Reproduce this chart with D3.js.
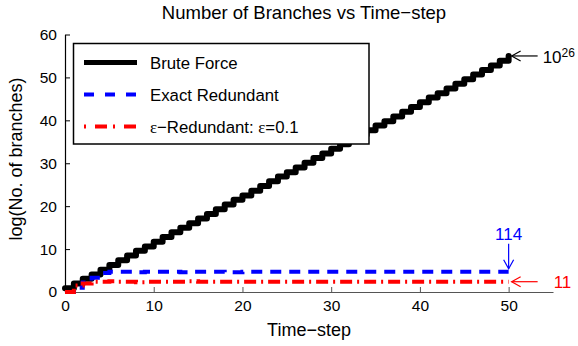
<!DOCTYPE html>
<html>
<head>
  <meta charset="utf-8">
  <title>Number of Branches vs Time-step</title>
  <script src="https://d3js.org/d3.v7.min.js"></script>
  <style>
    body { margin: 0; background: white; }
    text { font-family: "Liberation Sans", Arial, Helvetica, sans-serif; }
  </style>
</head>
<body>
  <div id="graphContainer"></div>
  <script>
    var width = 578;
    var height = 346;

    var timeSteps = d3.range(0, 51);
    var bruteForce = [0.9, 2.0, 3.1, 4.1, 5.2, 6.3, 7.4, 8.5, 9.6, 10.6,
      11.7, 12.8, 13.9, 15.0, 16.0, 17.1, 18.2, 19.3, 20.4, 21.5,
      22.5, 23.6, 24.7, 25.8, 26.9, 27.9, 29.0, 30.1, 31.2, 32.3,
      33.4, 34.4, 35.5, 36.6, 37.7, 38.8, 39.8, 40.9, 42.0, 43.1,
      44.2, 45.3, 46.3, 47.4, 48.5, 49.6, 50.7, 51.7, 52.8, 53.9, 55.0];
    var exactRedundant = [0, 1.0, 2.2, 3.3, 4.4, 4.7, 4.7, 4.7, 4.6, 4.7,
      4.7, 4.7, 4.7, 4.6, 4.7, 4.7, 4.7, 4.7, 4.6, 4.6,
      4.7, 4.7, 4.7, 4.7, 4.7, 4.7, 4.7, 4.7, 4.7, 4.7,
      4.7, 4.7, 4.7, 4.7, 4.7, 4.7, 4.7, 4.7, 4.7, 4.7,
      4.7, 4.7, 4.7, 4.7, 4.7, 4.7, 4.7, 4.7, 4.7, 4.7, 4.7];
    var epsRedundant = [0, 1.5, 2.0, 2.4, 2.4, 2.5, 2.4, 2.4, 2.3, 2.4,
      2.4, 2.4, 2.4, 2.4, 2.5, 2.4, 2.4, 2.4, 2.4, 2.4,
      2.4, 2.4, 2.4, 2.4, 2.4, 2.4, 2.4, 2.4, 2.4, 2.4,
      2.4, 2.4, 2.4, 2.4, 2.4, 2.4, 2.4, 2.4, 2.4, 2.4,
      2.4, 2.4, 2.4, 2.4, 2.4, 2.4, 2.4, 2.4, 2.4, 2.4, 2.4];
    var xTicks = [0, 10, 20, 30, 40, 50];
    var yTicks = [0, 10, 20, 30, 40, 50, 60];
    var seriesNames = ["Brute Force", "Exact Redundant", "ε−Redundant: ε=0.1"];
    var endLabels = ["26", "114", "11"];

    var x = d3.scaleLinear().domain([0, 55]).range([65, 553]);
    var y = d3.scaleLinear().domain([0, 60]).range([292, 34.5]);

    var svg = d3.select("#graphContainer").append("svg")
      .attr("width", width)
      .attr("height", height)
      .style("background", "white");

    // axes, ticks pointing inward like matlab
    var xAxis = svg.append("g")
      .attr("transform", "translate(0," + y(0) + ")")
      .call(d3.axisBottom(x).tickValues(xTicks).tickSizeInner(-5).tickSizeOuter(0).tickPadding(8));
    xAxis.select(".domain").attr("stroke", "#555").attr("stroke-width", 1.2);
    xAxis.selectAll(".tick line").attr("stroke", "#555");
    xAxis.selectAll("text").attr("font-size", 15.5).attr("fill", "black")
      .attr("font-family", "Liberation Sans, Arial, sans-serif");

    var yAxis = svg.append("g")
      .attr("transform", "translate(" + x(0) + ",0)")
      .call(d3.axisLeft(y).tickValues(yTicks).tickSizeInner(-5).tickSizeOuter(0).tickPadding(8));
    yAxis.select(".domain").attr("stroke", "black").attr("stroke-width", 1.2);
    yAxis.selectAll("text").attr("font-size", 15.5).attr("fill", "black")
      .attr("font-family", "Liberation Sans, Arial, sans-serif");

    var line = d3.line()
      .x(function (d, i) { return x(timeSteps[i]); })
      .y(function (d) { return y(d); })
      .curve(d3.curveStepAfter);

    svg.append("path").attr("d", line(bruteForce))
      .attr("fill", "none").attr("stroke", "black").attr("stroke-width", 6)
      .attr("stroke-linejoin", "round").attr("stroke-linecap", "round");
    svg.append("path").attr("d", line(exactRedundant))
      .attr("fill", "none").attr("stroke", "#0000ff").attr("stroke-width", 4)
      .attr("stroke-dasharray", "11,8");
    svg.append("path").attr("d", line(epsRedundant))
      .attr("fill", "none").attr("stroke", "#ff0000").attr("stroke-width", 4)
      .attr("stroke-dasharray", "12,5,2,5");

    // title and axis labels
    svg.append("text").attr("x", 304).attr("y", 19).attr("text-anchor", "middle")
      .attr("font-size", 18.5).text("Number of Branches vs Time−step");
    svg.append("text").attr("x", 309).attr("y", 336).attr("text-anchor", "middle")
      .attr("font-size", 18).text("Time−step");
    svg.append("text").attr("transform", "translate(22,159) rotate(-90)")
      .attr("text-anchor", "middle").attr("font-size", 18).text("log(No. of branches)");

    // legend
    var legend = svg.append("g");
    legend.append("rect").attr("x", 73.5).attr("y", 43.5).attr("width", 295.5).attr("height", 100.5)
      .attr("fill", "white").attr("stroke", "black").attr("stroke-width", 1.5);
    var legendStyles = [
      { color: "black", width: 5, dash: null },
      { color: "#0000ff", width: 4, dash: "10,11" },
      { color: "#ff0000", width: 4, dash: "2,9,12,6" }
    ];
    seriesNames.forEach(function (name, i) {
      var ly = 62.5 + i * 32;
      legend.append("line").attr("x1", 84).attr("x2", 137).attr("y1", ly).attr("y2", ly)
        .attr("stroke", legendStyles[i].color).attr("stroke-width", legendStyles[i].width)
        .attr("stroke-dasharray", legendStyles[i].dash);
      var t = legend.append("text").attr("x", 150).attr("y", ly).attr("dy", "0.36em")
        .attr("font-size", 16.8);
      if (i === 2) {
        t.append("tspan").attr("font-family", "Liberation Serif, serif").text("ε");
        t.append("tspan").text("−Redundant: ");
        t.append("tspan").attr("font-family", "Liberation Serif, serif").text("ε");
        t.append("tspan").text("=0.1");
      } else {
        t.text(name);
      }
    });

    // end annotations
    function arrowHead(g, tx, ty, dx, dy, color) {
      // open arrowhead pointing in direction (dx,dy)
      var len = 9, spread = 5;
      var bx = tx - dx * len, by = ty - dy * len;
      g.append("path")
        .attr("d", "M" + (bx - dy * spread) + "," + (by + dx * spread) + "L" + tx + "," + ty +
          "L" + (bx + dy * spread) + "," + (by - dx * spread))
        .attr("fill", "none").attr("stroke", color).attr("stroke-width", 1.2);
    }
    var ann = svg.append("g");
    var last = timeSteps.length - 1;

    // brute force
    var bx0 = x(timeSteps[last]) + 3, by0 = y(bruteForce[last]);
    ann.append("line").attr("x1", bx0).attr("x2", bx0 + 26).attr("y1", by0).attr("y2", by0)
      .attr("stroke", "black").attr("stroke-width", 1.2);
    arrowHead(ann, bx0, by0, -1, 0, "black");
    var t1 = ann.append("text").attr("x", bx0 + 31).attr("y", by0 + 7).attr("font-size", 17);
    t1.append("tspan").text("10");
    t1.append("tspan").attr("font-size", 12).attr("dy", -6).text(endLabels[0]);

    // exact redundant
    var ex0 = x(timeSteps[last]), ey0 = y(exactRedundant[last]) - 3;
    ann.append("line").attr("x1", ex0).attr("x2", ex0).attr("y1", ey0 - 25).attr("y2", ey0)
      .attr("stroke", "#0000ff").attr("stroke-width", 1.2);
    arrowHead(ann, ex0, ey0, 0, 1, "#0000ff");
    ann.append("text").attr("x", ex0).attr("y", ey0 - 29).attr("text-anchor", "middle")
      .attr("font-size", 17).attr("fill", "#0000ff").text(endLabels[1]);

    // eps redundant
    var rx0 = x(timeSteps[last]) + 3, ry0 = y(epsRedundant[last]);
    ann.append("line").attr("x1", rx0).attr("x2", rx0 + 26).attr("y1", ry0).attr("y2", ry0)
      .attr("stroke", "#ff0000").attr("stroke-width", 1.2);
    arrowHead(ann, rx0, ry0, -1, 0, "#ff0000");
    ann.append("text").attr("x", rx0 + 42).attr("y", ry0 + 6).attr("font-size", 17)
      .attr("fill", "#ff0000").text(endLabels[2]);
  </script>
</body>
</html>
